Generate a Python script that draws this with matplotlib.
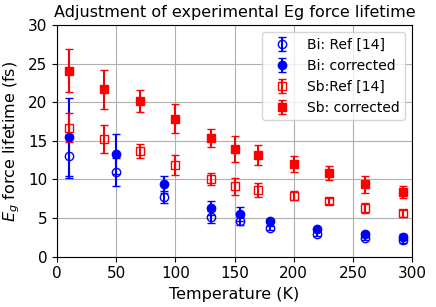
import matplotlib
matplotlib.use("Agg")
import matplotlib.pyplot as plt

# Bi data
bi_temp = [10, 50, 90, 130, 155, 180, 220, 260, 292]
bi_ref = [13.0, 11.0, 7.7, 5.1, 4.6, 3.7, 3.0, 2.4, 2.1]
bi_ref_err = [2.8, 1.8, 0.8, 0.8, 0.5, 0.3, 0.3, 0.3, 0.3]
bi_corr = [15.5, 13.3, 9.4, 6.3, 5.5, 4.6, 3.6, 2.9, 2.6]
bi_corr_err = [5.1, 2.6, 1.1, 0.9, 0.9, 0.3, 0.3, 0.3, 0.3]

# Sb data
sb_temp = [10, 40, 70, 100, 130, 150, 170, 200, 230, 260, 292]
sb_ref = [16.7, 15.2, 13.7, 11.9, 10.1, 9.1, 8.6, 7.9, 7.2, 6.3, 5.6]
sb_ref_err = [1.9, 1.8, 0.9, 1.3, 0.8, 1.1, 0.9, 0.6, 0.4, 0.7, 0.4]
sb_corr = [24.1, 21.7, 20.2, 17.9, 15.4, 14.0, 13.2, 12.0, 10.8, 9.4, 8.4]
sb_corr_err = [2.8, 2.5, 1.4, 1.9, 1.2, 1.7, 1.3, 1.0, 0.9, 1.1, 0.8]

fig = plt.figure(figsize=(4.36, 3.07), dpi=100)
ax = fig.add_axes([0.131, 0.164, 0.814, 0.754])

ax.errorbar(bi_temp, bi_ref, yerr=bi_ref_err, fmt="o", mfc="none", color="blue",
            capsize=3, markersize=6, label="Bi: Ref [14]")
ax.errorbar(bi_temp, bi_corr, yerr=bi_corr_err, fmt="o", color="blue",
            capsize=3, markersize=6, label="Bi: corrected")
ax.errorbar(sb_temp, sb_ref, yerr=sb_ref_err, fmt="s", mfc="none", color="red",
            capsize=3, markersize=6, label="Sb:Ref [14]")
ax.errorbar(sb_temp, sb_corr, yerr=sb_corr_err, fmt="s", color="red",
            capsize=3, markersize=6, label="Sb: corrected")

ax.set_xlim(0, 300)
ax.set_ylim(0, 30)
ax.grid(True)
ax.tick_params(labelsize=11)
ax.set_title("Adjustment of experimental Eg force lifetime", fontsize=11.5)
ax.set_xlabel("Temperature (K)", fontsize=11.5)
ax.set_ylabel("$E_g$ force lifetime (fs)", fontsize=11.5)
ax.legend(loc="upper right", fontsize=10)

fig.savefig("out.png", dpi=100)
